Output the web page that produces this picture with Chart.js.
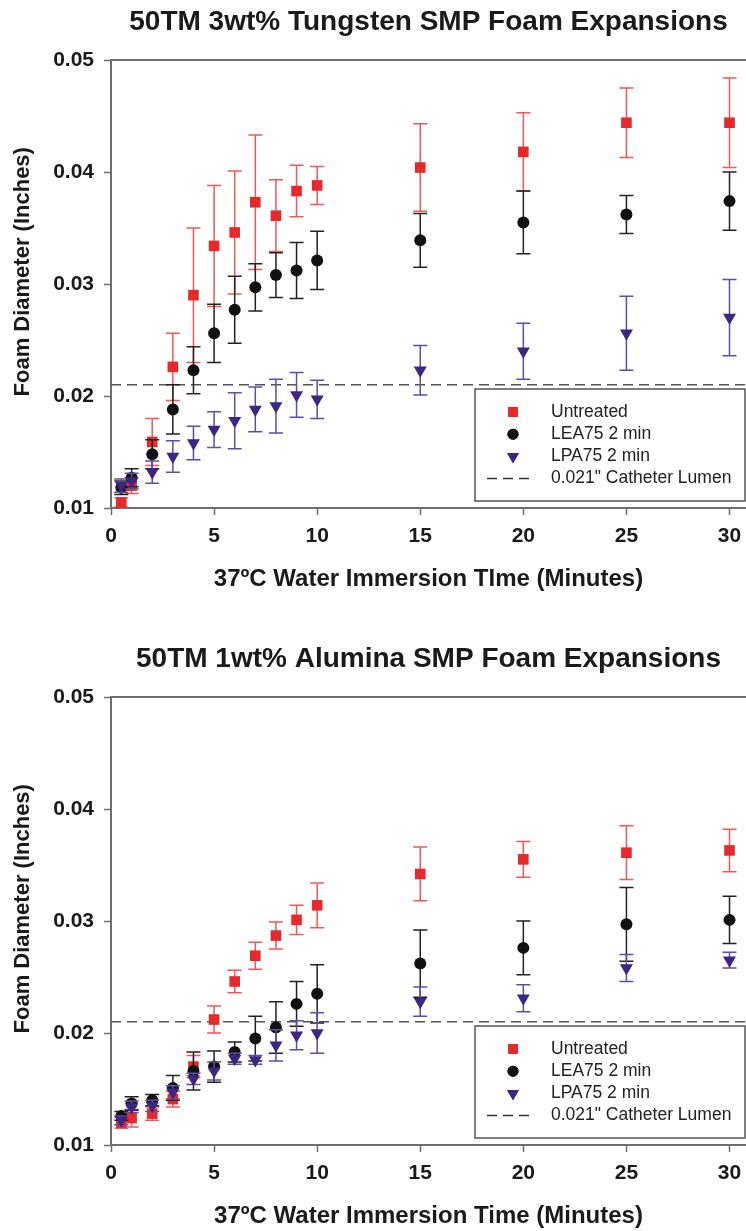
<!DOCTYPE html>
<html>
<head>
<meta charset="utf-8">
<script src="https://cdn.jsdelivr.net/npm/chart.js@4.4.0/dist/chart.umd.min.js"></script>
<style>
  html, body { margin: 0; padding: 0; background: #fff; width: 746px; height: 1231px; overflow: hidden; }
  .box { position: absolute; left: 0; width: 746px; height: 595px; }
</style>
</head>
<body>
<div class="box" style="top:0"><canvas id="tungsten" width="746" height="595"></canvas></div>
<div class="box" style="top:637px"><canvas id="alumina" width="746" height="595"></canvas></div>
<script>
// immersion times (minutes)
const minutes = [0.5, 1, 2, 3, 4, 5, 6, 7, 8, 9, 10, 15, 20, 25, 30];
const xTicks = [0, 5, 10, 15, 20, 25, 30];
const yTicks = [0.01, 0.02, 0.03, 0.04, 0.05];
const lumen = 0.021;
const seriesNames = ['Untreated', 'LEA75 2 min', 'LPA75 2 min'];
const lumenLabel = '0.021" Catheter Lumen';

// 3wt% tungsten
const wUntreated = [0.0105, 0.0120, 0.0159, 0.0226, 0.0290, 0.0334, 0.0346, 0.0373, 0.0361, 0.0383, 0.0388, 0.0404, 0.0418, 0.0444, 0.0444];
const wUntreatedSd = [0.0004, 0.0007, 0.0021, 0.0030, 0.0060, 0.0054, 0.0055, 0.0060, 0.0032, 0.0023, 0.0017, 0.0039, 0.0035, 0.0031, 0.0040];
const wLea = [0.0118, 0.0127, 0.0148, 0.0188, 0.0223, 0.0256, 0.0277, 0.0297, 0.0308, 0.0312, 0.0321, 0.0339, 0.0355, 0.0362, 0.0374];
const wLeaSd = [0.0006, 0.0008, 0.0013, 0.0022, 0.0021, 0.0026, 0.0030, 0.0021, 0.0020, 0.0025, 0.0026, 0.0024, 0.0028, 0.0017, 0.0026];
const wLpa = [0.0120, 0.0124, 0.0132, 0.0146, 0.0158, 0.0170, 0.0178, 0.0188, 0.0191, 0.0201, 0.0197, 0.0223, 0.0240, 0.0256, 0.0270];
const wLpaSd = [0.0006, 0.0007, 0.0010, 0.0014, 0.0015, 0.0016, 0.0025, 0.0020, 0.0024, 0.0020, 0.0017, 0.0022, 0.0025, 0.0033, 0.0034];

// 1wt% alumina
const aUntreated = [0.0120, 0.0124, 0.0128, 0.0141, 0.0170, 0.0212, 0.0246, 0.0269, 0.0287, 0.0301, 0.0314, 0.0342, 0.0355, 0.0361, 0.0363];
const aUntreatedSd = [0.0005, 0.0008, 0.0006, 0.0007, 0.0010, 0.0012, 0.0010, 0.0012, 0.0012, 0.0013, 0.0020, 0.0024, 0.0016, 0.0024, 0.0019];
const aLea = [0.0126, 0.0137, 0.0140, 0.0151, 0.0166, 0.0170, 0.0183, 0.0195, 0.0205, 0.0226, 0.0235, 0.0262, 0.0276, 0.0297, 0.0301];
const aLeaSd = [0.0004, 0.0006, 0.0005, 0.0011, 0.0017, 0.0014, 0.0009, 0.0020, 0.0023, 0.0020, 0.0026, 0.0030, 0.0024, 0.0033, 0.0021];
const aLpa = [0.0122, 0.0134, 0.0135, 0.0147, 0.0159, 0.0166, 0.0177, 0.0176, 0.0189, 0.0198, 0.0200, 0.0228, 0.0231, 0.0258, 0.0265];
const aLpaSd = [0.0004, 0.0005, 0.0005, 0.0006, 0.0005, 0.0008, 0.0005, 0.0004, 0.0014, 0.0013, 0.0018, 0.0013, 0.0012, 0.0012, 0.0007];

const FONT = "'Liberation Sans', Arial, Helvetica, sans-serif";
const AXIS = '#6e6e6e';
const styles = [
  { fill: '#e8292b', err: '#f0585a', pointStyle: 'rect', radius: 7.5, rotation: 0 },
  { fill: '#111111', err: '#222222', pointStyle: 'circle', radius: 6, rotation: 0 },
  { fill: '#3b2682', err: '#5f4f9e', pointStyle: 'triangle', radius: 7.5, rotation: 180 }
];

const errorBars = {
  id: 'errorBars',
  beforeDatasetDraw(chart, args) {
    const ds = chart.data.datasets[args.index];
    if (!ds.errors) return;
    const ctx = chart.ctx, xs = chart.scales.x, ys = chart.scales.y;
    ctx.save();
    ctx.strokeStyle = ds.errorColor;
    ctx.lineWidth = 1.5;
    ds.data.forEach((p, i) => {
      const px = xs.getPixelForValue(p.x);
      const top = ys.getPixelForValue(p.y + ds.errors[i]);
      const bot = ys.getPixelForValue(p.y - ds.errors[i]);
      ctx.beginPath();
      ctx.moveTo(px, top); ctx.lineTo(px, bot);
      ctx.moveTo(px - 7, top); ctx.lineTo(px + 7, top);
      ctx.moveTo(px - 7, bot); ctx.lineTo(px + 7, bot);
      ctx.stroke();
    });
    ctx.restore();
  }
};

const frameAndLegend = {
  id: 'frameAndLegend',
  afterDraw(chart) {
    const ctx = chart.ctx, a = chart.chartArea;
    ctx.save();
    // top frame line
    ctx.strokeStyle = AXIS; ctx.lineWidth = 2;
    ctx.beginPath(); ctx.moveTo(a.left, a.top); ctx.lineTo(a.right, a.top); ctx.stroke();
    // legend box
    const bx = a.left + 364, by = a.top + 329, bw = 270, bh = 112;
    ctx.fillStyle = '#fff'; ctx.fillRect(bx, by, bw, bh);
    ctx.strokeStyle = '#555'; ctx.lineWidth = 1.5; ctx.strokeRect(bx, by, bw, bh);
    ctx.font = '17.5px ' + FONT; ctx.textBaseline = 'middle'; ctx.fillStyle = '#222';
    const mx = bx + 38, tx = bx + 76;
    seriesNames.forEach((name, i) => {
      const y = by + 23 + i * 22.2;
      const s = styles[i];
      ctx.fillStyle = s.fill;
      Chart.helpers.drawPoint(ctx, { pointStyle: s.pointStyle, radius: s.radius * 0.92, rotation: s.rotation, borderWidth: 0 }, mx, y);
      ctx.fill();
      ctx.fillStyle = '#222';
      ctx.fillText(name, tx, y);
    });
    const ly = by + 23 + 3 * 22.2;
    ctx.strokeStyle = '#333'; ctx.lineWidth = 1.5; ctx.setLineDash([10, 6]);
    ctx.beginPath(); ctx.moveTo(mx - 26, ly); ctx.lineTo(mx + 22, ly); ctx.stroke();
    ctx.setLineDash([]);
    ctx.fillText(lumenLabel, tx, ly);
    ctx.restore();
  }
};

function makeChart(id, titleText, xTitle, series, sds) {
  const datasets = series.map((vals, i) => ({
    label: seriesNames[i],
    data: minutes.map((m, j) => ({ x: m, y: vals[j] })),
    errors: sds[i],
    errorColor: styles[i].err,
    showLine: false,
    pointStyle: styles[i].pointStyle,
    pointRotation: styles[i].rotation,
    pointRadius: styles[i].radius,
    pointBackgroundColor: styles[i].fill,
    pointBorderColor: styles[i].fill,
    pointBorderWidth: 0,
    order: 3 - i
  }));
  datasets.push({
    label: lumenLabel,
    type: 'line',
    data: [{ x: 0, y: lumen }, { x: 30.8, y: lumen }],
    borderColor: '#555',
    borderWidth: 1.5,
    borderDash: [10, 6],
    pointRadius: 0,
    order: 4
  });

  new Chart(document.getElementById(id), {
    type: 'scatter',
    data: { datasets },
    plugins: [errorBars, frameAndLegend],
    options: {
      responsive: false,
      animation: false,
      layout: { padding: 0, autoPadding: false },
      plugins: {
        legend: { display: false },
        tooltip: { enabled: false },
        title: {
          display: true,
          text: titleText,
          fullSize: false,
          color: '#1a1a1a',
          font: { family: FONT, size: 28, weight: 'bold' },
          padding: { top: 5.2, bottom: 21.2 }
        }
      },
      scales: {
        x: {
          type: 'linear',
          min: 0,
          max: 30.8,
          afterFit: s => { s.height = 87; s.paddingLeft = 0; s.paddingRight = 0; },
          afterBuildTicks: s => { s.ticks = xTicks.map(v => ({ value: v })); },
          grid: { drawOnChartArea: false, tickLength: 7, tickColor: AXIS, tickWidth: 1.5 },
          border: { color: AXIS, width: 2 },
          ticks: { color: '#1a1a1a', padding: 9, maxRotation: 0, font: { family: FONT, size: 21, weight: 'bold' } },
          title: {
            display: true,
            text: xTitle,
            color: '#1a1a1a',
            font: { family: FONT, size: 24, weight: 'bold' },
            padding: { top: 0, bottom: 1.6 }
          }
        },
        y: {
          min: 0.01,
          max: 0.05,
          afterFit: s => { s.width = 111; },
          afterBuildTicks: s => { s.ticks = yTicks.map(v => ({ value: v })); },
          grid: { drawOnChartArea: false, tickLength: 7, tickColor: AXIS, tickWidth: 1.5 },
          border: { color: AXIS, width: 2 },
          ticks: {
            color: '#1a1a1a', padding: 10,
            font: { family: FONT, size: 21, weight: 'bold' },
            callback: v => v.toFixed(2)
          },
          title: {
            display: true,
            text: '    Foam Diameter (Inches)',
            color: '#1a1a1a',
            font: { family: FONT, size: 22, weight: 'bold' },
            padding: { top: 9.8, bottom: 0 }
          }
        }
      }
    }
  });
}

makeChart('tungsten', '50TM 3wt% Tungsten SMP Foam Expansions', '37ºC Water Immersion TIme (Minutes)',
  [wUntreated, wLea, wLpa], [wUntreatedSd, wLeaSd, wLpaSd]);
makeChart('alumina', '50TM 1wt% Alumina SMP Foam Expansions', '37ºC Water Immersion Time (Minutes)',
  [aUntreated, aLea, aLpa], [aUntreatedSd, aLeaSd, aLpaSd]);
</script>
</body>
</html>
